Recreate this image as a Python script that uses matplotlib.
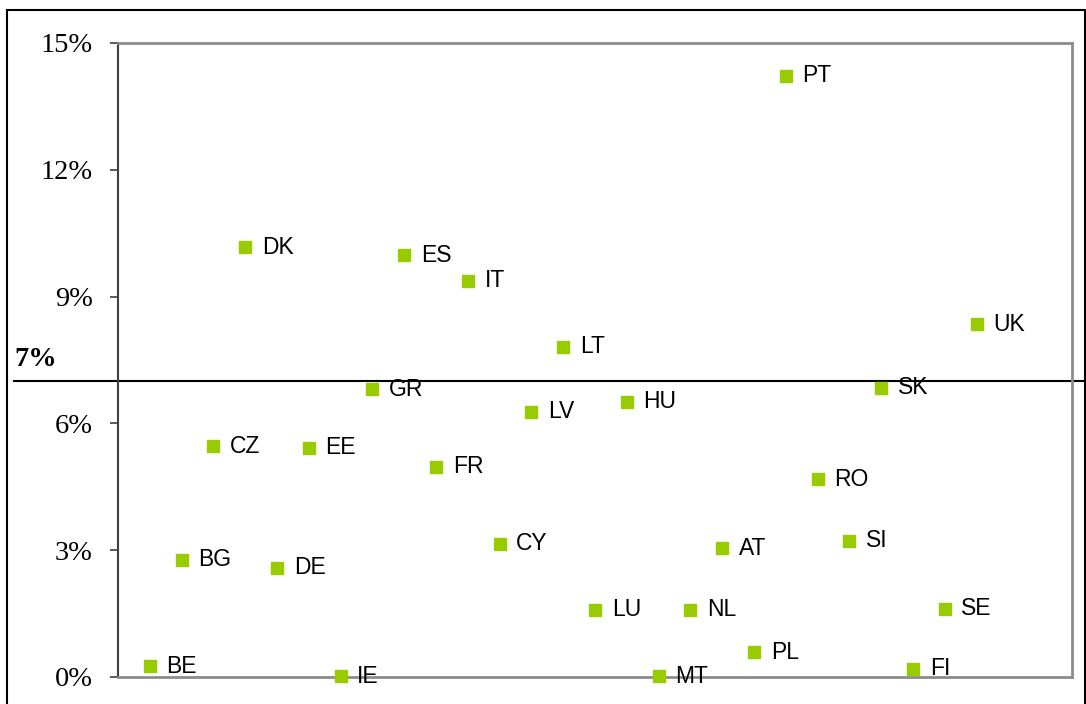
import matplotlib
matplotlib.use("Agg")
import matplotlib.pyplot as plt
import matplotlib.transforms as mtransforms
from matplotlib.patches import Rectangle
from matplotlib.ticker import FuncFormatter

# countries in the order they sit along the x axis
countries = ["BE", "BG", "CZ", "DK", "DE", "EE", "IE", "GR", "ES", "FR",
             "IT", "CY", "LV", "LT", "LU", "HU", "MT", "NL", "AT", "PL",
             "PT", "RO", "SI", "SK", "FI", "SE", "UK"]
# share in %
values = [0.26, 2.77, 5.46, 10.17, 2.58, 5.42, 0.02, 6.81, 9.98, 4.97,
          9.37, 3.15, 6.27, 7.81, 1.59, 6.51, 0.02, 1.59, 3.05, 0.59,
          14.22, 4.68, 3.22, 6.84, 0.19, 1.61, 8.35]
yticks = [0, 3, 6, 9, 12, 15]
threshold = 7

W, H = 1086, 704
fig = plt.figure(figsize=(W / 100, H / 100), dpi=100)
ax = fig.add_axes([118 / W, 1 - 677 / H, (1072 - 118) / W, (677 - 43) / H])

x = list(range(1, len(countries) + 1))
ax.plot(x, values, linestyle="none", marker="s", markersize=8.5,
        color="#99CC00", markeredgecolor="#99CC00", clip_on=False, zorder=3)
for xi, yi, name in zip(x, values, countries):
    ax.annotate(name, (xi, yi), xytext=(12, 0), textcoords="offset points",
                va="center", ha="left", fontsize=16.5, family="Liberation Sans",
                annotation_clip=False, zorder=4)

ax.set_xlim(0, 30)
ax.set_ylim(0, 15)
ax.set_xticks([])
ax.set_yticks(yticks)
ax.yaxis.set_major_formatter(FuncFormatter(lambda v, p: f"{v:.0f}%"))
ax.tick_params(axis="y", length=6, width=1.2, color="#404040", pad=12,
               labelsize=20.5, direction="out")
for lab in ax.get_yticklabels():
    lab.set_family("Liberation Serif")

for side in ["top", "right", "bottom"]:
    ax.spines[side].set_color("#8c8c8c")
    ax.spines[side].set_linewidth(2)
ax.spines["left"].set_color("#404040")
ax.spines["left"].set_linewidth(1.5)

# 7% reference line running across the whole figure
trans = mtransforms.blended_transform_factory(fig.transFigure, ax.transData)
ax.plot([14 / W, 1.0], [threshold, threshold], color="black", linewidth=1.5,
        transform=trans, clip_on=False, zorder=2)
ax.text(14 / W, threshold + 0.22, f"{threshold}%", transform=trans,
        fontsize=20.5, fontweight="bold", family="Liberation Serif",
        ha="left", va="bottom")

# outer frame
fig.patches.append(Rectangle((7 / W, -0.05), (1085 - 7) / W, 1.05 - 10 / H,
                             transform=fig.transFigure, fill=False,
                             edgecolor="black", linewidth=1.5))

fig.savefig("out.png", dpi=100)
